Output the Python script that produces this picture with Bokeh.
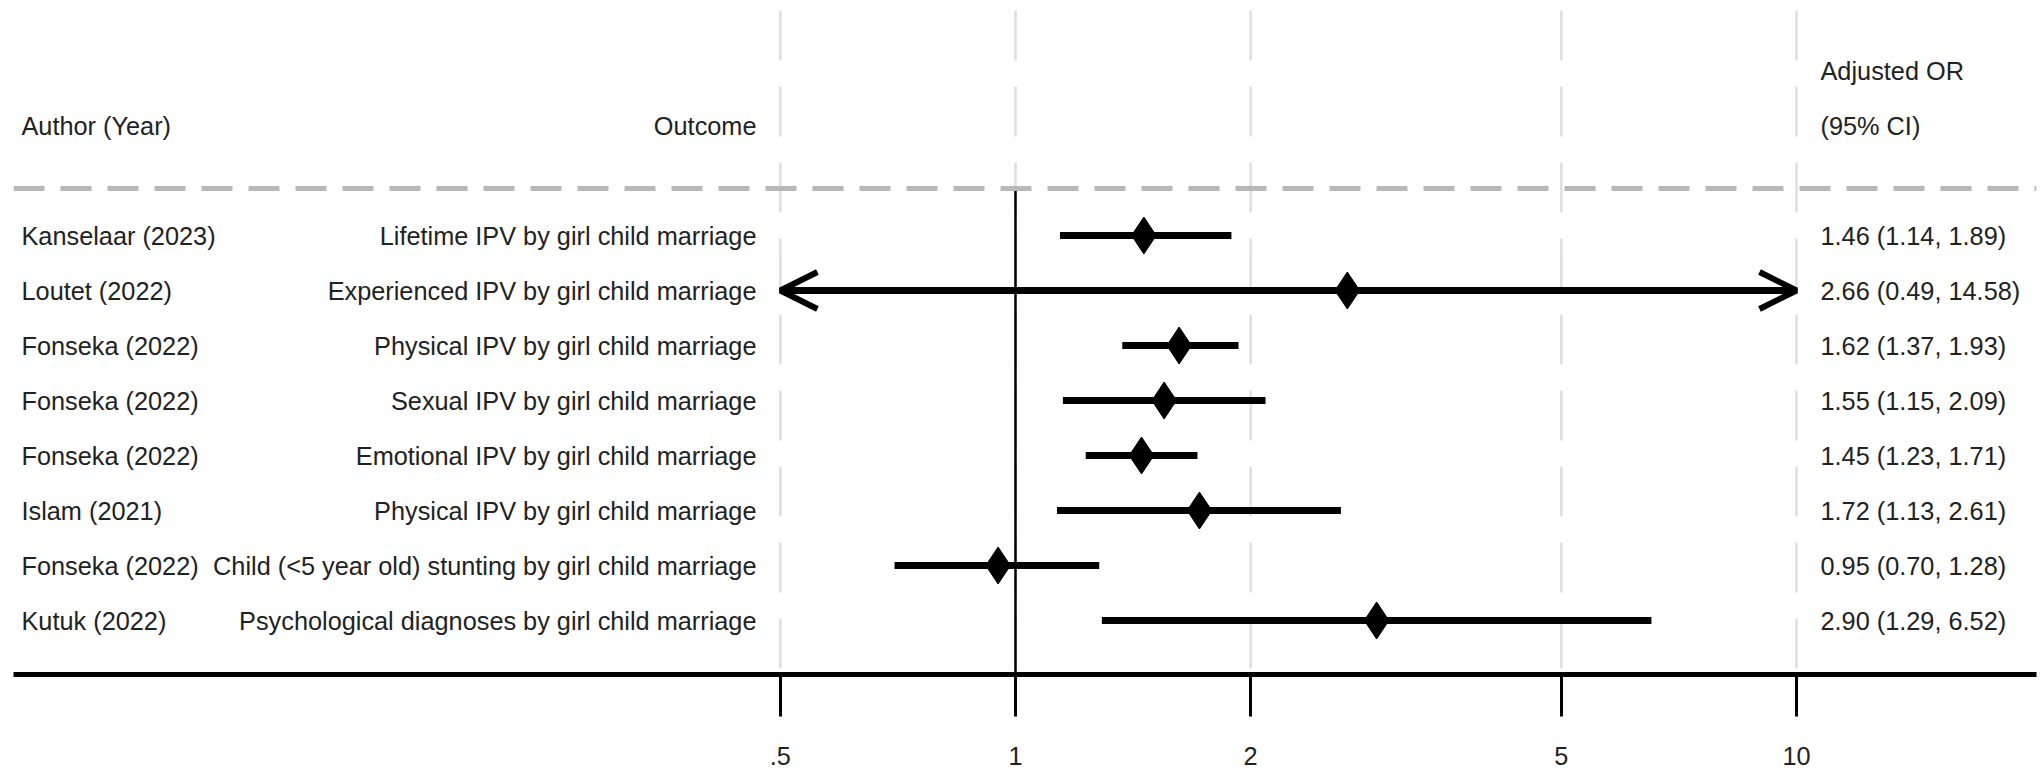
from bokeh.plotting import figure
from bokeh.models import ColumnDataSource, Range1d, FixedTicker, Span, Arrow, OpenHead
from bokeh.core.properties import value
from bokeh.embed import file_html
from bokeh.resources import INLINE

# ---------------- data ----------------
authors = ["Kanselaar (2023)", "Loutet (2022)", "Fonseka (2022)", "Fonseka (2022)",
           "Fonseka (2022)", "Islam (2021)", "Fonseka (2022)", "Kutuk (2022)"]
outcomes = ["Lifetime IPV by girl child marriage",
            "Experienced IPV by girl child marriage",
            "Physical IPV by girl child marriage",
            "Sexual IPV by girl child marriage",
            "Emotional IPV by girl child marriage",
            "Physical IPV by girl child marriage",
            "Child (<5 year old) stunting by girl child marriage",
            "Psychological diagnoses by girl child marriage"]
or_est = [1.46, 2.66, 1.62, 1.55, 1.45, 1.72, 0.95, 2.90]
ci_lo = [1.14, 0.49, 1.37, 1.15, 1.23, 1.13, 0.70, 1.29]
ci_hi = [1.89, 14.58, 1.93, 2.09, 1.71, 2.61, 1.28, 6.52]
tick_vals = [0.5, 1, 2, 5, 10]
tick_labels = [".5", "1", "2", "5", "10"]
header_left = "Author (Year)"
header_mid = "Outcome"
header_right = ["Adjusted OR", "(95% CI)"]

# ---------------- layout ----------------
W, H = 2044, 779
FONT_NAME = "Liberation Sans"
FONT = value(FONT_NAME)
FS = "25.3px"
TXT = "#222222"

# pixel geometry of the log axis
PX_ONE = 1015.0     # x of OR = 1
PX_DEC = 781.0      # pixels per decade
FRAME_L, FRAME_R = 13.0, 2036.0
def px2x(px):
    return 10 ** ((px - PX_ONE) / PX_DEC)

ROW0, ROWSTEP = 235.0, 55.0
def py2y(py):
    return (py - ROW0) / ROWSTEP

x_start, x_end = px2x(FRAME_L), px2x(FRAME_R)
y_top, y_bot = py2y(0), py2y(674)

p = figure(width=W, height=H, x_axis_type="log", output_backend="svg",
           toolbar_location=None, y_axis_location=None,
           x_range=Range1d(x_start, x_end), y_range=Range1d(y_bot, y_top),
           min_border_left=int(FRAME_L), min_border_right=int(W - FRAME_R),
           min_border_top=0, min_border_bottom=H - 674)
p.outline_line_color = None
p.xgrid.visible = False
p.ygrid.visible = False
p.background_fill_color = "white"

n = len(authors)
rows = list(range(n))
amin, amax = tick_vals[0], tick_vals[-1]
lo_c = [max(v, amin) for v in ci_lo]
hi_c = [min(v, amax) for v in ci_hi]
labels_right = ["%.2f (%.2f, %.2f)" % (e, l, h) for e, l, h in zip(or_est, ci_lo, ci_hi)]

src = ColumnDataSource(dict(y=rows, est=or_est, lo=lo_c, hi=hi_c,
                            author=authors, outcome=outcomes, rlab=labels_right))

# light dashed vertical grid lines at ticks
gy0 = py2y(10)
p.segment(x0=tick_vals, x1=tick_vals, y0=[gy0] * len(tick_vals), y1=[y_bot] * len(tick_vals),
          line_color="#dedede", line_width=2.5, line_dash="50 26")

# header dashed line
hdr_y = py2y(188)
p.add_layout(Span(location=hdr_y, dimension="width", line_color="#b8b8b8",
                  line_width=5, line_dash="31 16"))

# null line at OR = 1
p.segment(x0=[1], x1=[1], y0=[hdr_y], y1=[y_bot], line_color="black", line_width=2.5)

# CI lines
p.segment(x0="lo", x1="hi", y0="y", y1="y", source=src, line_color="black", line_width=7)

# arrows for truncated CIs
for i in range(n):
    if ci_lo[i] < amin:
        p.add_layout(Arrow(end=OpenHead(size=37, line_width=6, line_color="black"),
                           x_start=or_est[i], y_start=rows[i], x_end=amin, y_end=rows[i],
                           line_width=7, line_color="black"))
    if ci_hi[i] > amax:
        p.add_layout(Arrow(end=OpenHead(size=37, line_width=6, line_color="black"),
                           x_start=or_est[i], y_start=rows[i], x_end=amax, y_end=rows[i],
                           line_width=7, line_color="black"))

# point estimates
p.scatter(x="est", y="y", source=src, marker="diamond", size=37,
          fill_color="black", line_color="black")

# text columns
x_auth = px2x(21)
x_out = px2x(756)
x_right = px2x(1820)
common = dict(text_font=FONT, text_font_size=FS, text_color=TXT, text_baseline="middle")
p.text(x=x_auth, y="y", text="author", source=src, text_align="left", **common)
p.text(x=x_out, y="y", text="outcome", source=src, text_align="right", **common)
p.text(x=x_right, y="y", text="rlab", source=src, text_align="left", **common)

# headers
p.text(x=[x_auth], y=[-2], text=[header_left], text_align="left", **common)
p.text(x=[x_out], y=[-2], text=[header_mid], text_align="right", **common)
p.text(x=[x_right, x_right], y=[-3, -2], text=header_right, text_align="left", **common)

# x axis
ax = p.xaxis[0]
ax.ticker = FixedTicker(ticks=tick_vals)
ax.major_label_overrides = {float(v): s for v, s in zip(tick_vals, tick_labels)}
ax.axis_line_width = 5
ax.axis_line_color = "black"
ax.major_tick_out = 42
ax.major_tick_in = 0
ax.major_tick_line_width = 3
ax.major_tick_line_color = "black"
ax.minor_tick_line_color = None
ax.major_label_standoff = 30
ax.major_label_text_font = FONT_NAME
ax.major_label_text_font_size = FS
ax.major_label_text_color = TXT

open("out.html", "w").write(file_html(p, INLINE))
